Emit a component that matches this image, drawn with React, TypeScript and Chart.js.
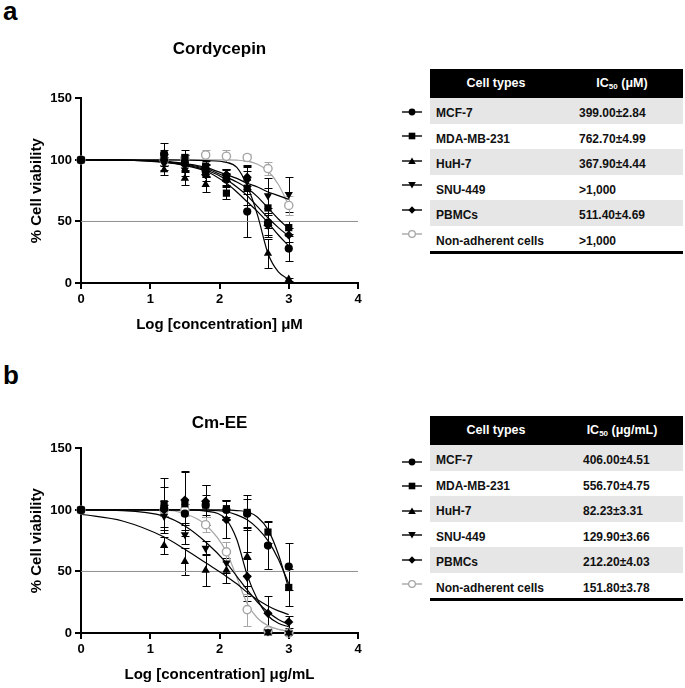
import React, { useEffect, useRef } from "react";
import { Chart, registerables } from "chart.js";

Chart.register(...registerables);

// ---------------- data ----------------
const doseLog = [0, 1.2, 1.5, 1.8, 2.1, 2.4, 2.7, 3.0];
const fitLog = [0, 0.6, 1.2, 1.5, 1.8, 2.1, 2.25, 2.4, 2.55, 2.7, 2.85, 3.0];
const halfLine = 50;
const xRange = [0, 4];
const yRange = [0, 150];
const xStep = 1;
const yStep = 50;

const cellTypes = ["MCF-7", "MDA-MB-231", "HuH-7", "SNU-449", "PBMCs", "Non-adherent cells"];
const cordIC50 = ["399.00±2.84", "762.70±4.99", "367.90±4.44", ">1,000", "511.40±4.69", ">1,000"];
const cmIC50 = ["406.00±4.51", "556.70±4.75", "82.23±3.31", "129.90±3.66", "212.20±4.03", "151.80±3.78"];

// Cordycepin (panel a)
const cordMCF7 = [100, 105, 98, 91, 84, 58, 49, 28];
const cordMCF7Sd = [0, 9, 6, 5, 5, 21, 12, 10];
const cordMCF7Fit = [100, 99.8, 98, 95.5, 91, 81, 74, 66, 58, 49, 39, 30];
const cordMDA = [100, 102, 102, 95, 73, 77, 61, 45];
const cordMDASd = [0, 6, 6, 4, 5, 14, 16, 5];
const cordMDAFit = [100, 99.9, 98.5, 96.5, 93, 86, 82, 77, 70, 61, 52, 44];
const cordHuH7 = [100, 92, 85, 80, 88, 85, 24, 3];
const cordHuH7Sd = [0, 4, 5, 6, 5, 10, 12, 1];
const cordHuH7Fit = [100, 100, 100, 99.9, 99.5, 98, 94, 79, 55, 24, 9, 3];
const cordSNU = [100, 97, 92, 92, 86, 83, 71, 72];
const cordSNUSd = [0, 5, 5, 5, 6, 11, 14, 14];
const cordSNUFit = [100, 99.8, 99, 97, 94, 88, 85, 81, 78, 74, 71, 68];
const cordPBMC = [100, 100, 96, 88, 88, 86, 47, 39];
const cordPBMCSd = [0, 5, 5, 5, 5, 10, 8, 6];
const cordPBMCFit = [100, 99.8, 98.5, 96, 92, 84, 78, 71, 62, 53, 45, 38];
const cordNonAdh = [100, 100, 101, 104, 103, 102, 93, 63];
const cordNonAdhSd = [0, 4, 4, 4, 5, 3, 5, 8];
const cordNonAdhFit = [100, 100, 100, 100, 100, 100, 99.8, 99, 96.5, 91, 80, 63];

// Cm-EE (panel b)
const cmMCF7 = [100, 101, 97, 104, 100, 97, 71, 54];
const cmMCF7Sd = [0, 6, 8, 8, 8, 12, 19, 19];
const cmMCF7Fit = [100, 100, 100, 100, 99.8, 98.5, 96, 92, 85, 75, 60, 40];
const cmMDA = [100, 105, 105, 104, 101, 98, 82, 37];
const cmMDASd = [0, 21, 26, 16, 7, 14, 9, 15];
const cmMDAFit = [100, 100, 100, 100, 100, 100, 99.5, 98.5, 94, 84, 64, 36];
const cmHuH7 = [100, 71, 58, 51, 51, 62, 0, 0];
const cmHuH7Sd = [0, 7, 11, 13, 10, 24, 0, 0];
const cmHuH7Fit = [96.5, 91, 78, 68, 57, 46, 40, 33, 27, 22, 18, 15];
const cmSNU = [100, 95, 80, 69, 57, 45, 1, 0];
const cmSNUSd = [0, 9, 8, 6, 8, 15, 0, 0];
const cmSNUFit = [100, 99.5, 95, 87, 74, 57, 46, 35, 25, 17, 11, 7];
const cmPBMC = [100, 100, 108, 107, 92, 46, 16, 9];
const cmPBMCSd = [0, 19, 24, 13, 15, 20, 14, 5];
const cmPBMCFit = [100, 100, 100, 100, 99, 92, 76, 47, 27, 14, 8, 5];
const cmNonAdh = [100, 100, 100, 88, 66, 19, 2, 0];
const cmNonAdhSd = [0, 5, 5, 6, 8, 13, 3, 1];
const cmNonAdhFit = [100, 100, 100, 97, 88, 66, 45, 24, 12, 6, 3, 1.5];

// ---------------- styles ----------------
const FONT = "'Liberation Sans', Arial, Helvetica, sans-serif";
Chart.defaults.font.family = FONT;

const seriesStyles = [
  { pointStyle: "circle", radius: 4.1, rotation: 0, color: "#000", fill: "#000", border: 0, order: 11 },
  { pointStyle: "rect", radius: 5.1, rotation: 0, color: "#000", fill: "#000", border: 0, order: 9 },
  { pointStyle: "triangle", radius: 4.8, rotation: 0, color: "#000", fill: "#000", border: 0, order: 12 },
  { pointStyle: "triangle", radius: 4.8, rotation: 180, color: "#000", fill: "#000", border: 0, order: 13 },
  { pointStyle: "rectRot", radius: 4.6, rotation: 0, color: "#000", fill: "#000", border: 0, order: 14 },
  { pointStyle: "circle", radius: 4.1, rotation: 0, color: "#a6a6a6", fill: "#fff", border: 1.4, order: 15 },
];

type Series = { values: number[]; sd: number[]; fit: number[] };

const cordSeries: Series[] = [
  { values: cordMCF7, sd: cordMCF7Sd, fit: cordMCF7Fit },
  { values: cordMDA, sd: cordMDASd, fit: cordMDAFit },
  { values: cordHuH7, sd: cordHuH7Sd, fit: cordHuH7Fit },
  { values: cordSNU, sd: cordSNUSd, fit: cordSNUFit },
  { values: cordPBMC, sd: cordPBMCSd, fit: cordPBMCFit },
  { values: cordNonAdh, sd: cordNonAdhSd, fit: cordNonAdhFit },
];
const cmSeries: Series[] = [
  { values: cmMCF7, sd: cmMCF7Sd, fit: cmMCF7Fit },
  { values: cmMDA, sd: cmMDASd, fit: cmMDAFit },
  { values: cmHuH7, sd: cmHuH7Sd, fit: cmHuH7Fit },
  { values: cmSNU, sd: cmSNUSd, fit: cmSNUFit },
  { values: cmPBMC, sd: cmPBMCSd, fit: cmPBMCFit },
  { values: cmNonAdh, sd: cmNonAdhSd, fit: cmNonAdhFit },
];

function makeDatasets(series: Series[]) {
  const ds: any[] = [];
  ds.push({
    type: "line",
    data: xRange.map((x) => ({ x, y: halfLine })),
    borderColor: "#8f8f8f",
    borderWidth: 1,
    pointRadius: 0,
    order: 100,
    clip: false,
  });
  series.forEach((s, i) => {
    const st = seriesStyles[i];
    ds.push({
      type: "line",
      data: fitLog.map((x, k) => ({ x, y: s.fit[k] })),
      borderColor: st.color,
      borderWidth: 1.2,
      pointRadius: 0,
      cubicInterpolationMode: "monotone",
      fill: false,
      order: 50,
      clip: false,
    });
  });
  series.forEach((s, i) => {
    const st = seriesStyles[i];
    ds.push({
      type: "scatter",
      data: doseLog.map((x, k) => ({ x, y: s.values[k] })),
      errors: s.sd,
      errorColor: st.color,
      pointStyle: st.pointStyle,
      pointRadius: st.radius,
      pointRotation: st.rotation,
      pointBackgroundColor: st.fill,
      pointBorderColor: st.color,
      pointBorderWidth: st.border,
      showLine: false,
      order: st.order,
      clip: false,
    });
  });
  return ds;
}

const errorBarPlugin = {
  id: "errorBars",
  beforeDatasetsDraw(chart: any) {
    const { ctx } = chart;
    const xs = chart.scales.x;
    const ys = chart.scales.y;
    ctx.save();
    chart.data.datasets.forEach((ds: any) => {
      if (!ds.errors) return;
      ctx.strokeStyle = ds.errorColor;
      ctx.lineWidth = 1;
      ds.data.forEach((p: any, k: number) => {
        const e = ds.errors[k];
        if (!e) return;
        const px = Math.round(xs.getPixelForValue(p.x)) + 0.5;
        const top = Math.round(ys.getPixelForValue(p.y + e)) + 0.5;
        const bot = Math.round(ys.getPixelForValue(p.y - e)) + 0.5;
        ctx.beginPath();
        ctx.moveTo(px, top);
        ctx.lineTo(px, bot);
        ctx.moveTo(px - 4, top);
        ctx.lineTo(px + 4, top);
        ctx.moveTo(px - 4, bot);
        ctx.lineTo(px + 4, bot);
        ctx.stroke();
      });
    });
    ctx.restore();
  },
};

function DoseChart(props: {
  title: string;
  xTitle: string;
  series: Series[];
  titlePad: { top: number; bottom: number };
  top: number;
}) {
  const ref = useRef<HTMLCanvasElement>(null);
  useEffect(() => {
    if (!ref.current) return;
    const axisGrid = {
      drawOnChartArea: false,
      drawTicks: true,
      tickLength: 6,
      color: "#000",
      lineWidth: 2,
    };
    const chart = new Chart(ref.current, {
      type: "scatter",
      data: { datasets: makeDatasets(props.series) },
      options: {
        responsive: false,
        animation: false,
        events: [],
        layout: { padding: { left: 24, right: 12, top: 0, bottom: 2 } },
        plugins: {
          legend: { display: false },
          tooltip: { enabled: false },
          title: {
            display: true,
            text: props.title,
            fullSize: false,
            color: "#000",
            font: { family: FONT, size: 17, weight: "bold" },
            padding: props.titlePad,
          },
        },
        scales: {
          x: {
            type: "linear",
            min: xRange[0],
            max: xRange[1],
            ticks: { stepSize: xStep, color: "#000", padding: 3, font: { family: FONT, size: 13, weight: "bold" } },
            grid: axisGrid,
            border: { display: true, color: "#000", width: 2 },
            title: {
              display: true,
              text: props.xTitle,
              color: "#000",
              font: { family: FONT, size: 15, weight: "bold" },
              padding: { top: 4, bottom: 4 },
            },
            afterFit: (s: any) => {
              s.height = 55;
            },
          },
          y: {
            type: "linear",
            min: yRange[0],
            max: yRange[1],
            ticks: { stepSize: yStep, color: "#000", padding: 3, font: { family: FONT, size: 13, weight: "bold" } },
            grid: axisGrid,
            border: { display: true, color: "#000", width: 2 },
            title: {
              display: true,
              text: "% Cell viability",
              color: "#000",
              font: { family: FONT, size: 15, weight: "bold" },
              padding: { top: 4, bottom: 4 },
            },
            afterFit: (s: any) => {
              s.width = 57;
            },
          },
        },
      } as any,
      plugins: [errorBarPlugin],
    });
    return () => chart.destroy();
  }, []);
  return (
    <canvas
      ref={ref}
      width={370}
      height={310}
      style={{ position: "absolute", left: 0, top: props.top, width: 370, height: 310 }}
    />
  );
}

function LegendMark({ idx }: { idx: number }) {
  const st = seriesStyles[idx];
  const c = st.color;
  let shape: any;
  if (idx === 0) shape = <circle cx={10} cy={7} r={3.4} fill={c} />;
  else if (idx === 1) shape = <rect x={6.7} y={3.7} width={6.6} height={6.6} fill={c} />;
  else if (idx === 2) shape = <polygon points="10,3.4 13.8,10 6.2,10" fill={c} />;
  else if (idx === 3) shape = <polygon points="10,10.6 13.8,4 6.2,4" fill={c} />;
  else if (idx === 4) shape = <polygon points="10,3.2 13.6,7 10,10.8 6.4,7" fill={c} />;
  else shape = <circle cx={10} cy={7} r={3.3} fill="#fff" stroke={c} strokeWidth={1.3} />;
  return (
    <svg width={20} height={14} style={{ display: "block" }}>
      <line x1={0} y1={7} x2={20} y2={7} stroke={c} strokeWidth={1.4} />
      {shape}
    </svg>
  );
}

function IC50Table(props: {
  top: number;
  unit: string;
  values: string[];
  markTop: number;
  valueLeft: number;
}) {
  const left = 430;
  const width = 253;
  const headerH = 29;
  const rowH = 25.5;
  const rows = cellTypes.length;
  return (
    <>
      <div
        style={{
          position: "absolute",
          left,
          top: props.top,
          width,
          height: headerH,
          background: "#000",
          color: "#fff",
          fontFamily: FONT,
          fontWeight: "bold",
          fontSize: 12.5,
        }}
      >
        <span style={{ position: "absolute", left: 66, top: 7, transform: "translateX(-50%)", whiteSpace: "nowrap" }}>
          Cell types
        </span>
        <span style={{ position: "absolute", left: 192, top: 7, transform: "translateX(-50%)", whiteSpace: "nowrap" }}>
          IC<sub style={{ fontSize: 8, verticalAlign: "-2px" }}>50</sub> ({props.unit})
        </span>
      </div>
      {cellTypes.map((name, i) => (
        <div
          key={name}
          style={{
            position: "absolute",
            left,
            top: props.top + headerH + i * rowH,
            width,
            height: rowH,
            background: i % 2 === 0 ? "#e6e6e6" : "#fff",
            fontFamily: FONT,
            fontWeight: "bold",
            fontSize: 12,
            color: "#111",
          }}
        >
          <span style={{ position: "absolute", left: 6, top: 8, whiteSpace: "nowrap" }}>{name}</span>
          <span style={{ position: "absolute", left: props.valueLeft, top: 8, whiteSpace: "nowrap" }}>
            {props.values[i]}
          </span>
        </div>
      ))}
      <div
        style={{
          position: "absolute",
          left,
          top: props.top + headerH + rows * rowH,
          width,
          height: 3,
          background: "#000",
        }}
      />
      {cellTypes.map((name, i) => (
        <div key={"m" + name} style={{ position: "absolute", left: 402, top: props.markTop + i * 24.5 - 7 }}>
          <LegendMark idx={i} />
        </div>
      ))}
    </>
  );
}

export default function App() {
  return (
    <div
      style={{
        position: "absolute",
        left: 0,
        top: 0,
        width: 685,
        height: 688,
        overflow: "hidden",
        background: "#fff",
        fontFamily: FONT,
      }}
    >
      <div style={{ position: "absolute", left: 3, top: -2, fontSize: 26, fontWeight: "bold", lineHeight: "26px" }}>a</div>
      <div style={{ position: "absolute", left: 3, top: 362, fontSize: 26, fontWeight: "bold", lineHeight: "26px" }}>b</div>
      <DoseChart
        title="Cordycepin"
        xTitle="Log [concentration] μM"
        series={cordSeries}
        titlePad={{ top: 9, bottom: 39 }}
        top={30}
      />
      <DoseChart
        title="Cm-EE"
        xTitle="Log [concentration] μg/mL"
        series={cmSeries}
        titlePad={{ top: 33, bottom: 15 }}
        top={380}
      />
      <IC50Table top={69} unit="μM" values={cordIC50} markTop={111.7} valueLeft={149} />
      <IC50Table top={416} unit="μg/mL" values={cmIC50} markTop={461.7} valueLeft={153} />
    </div>
  );
}
